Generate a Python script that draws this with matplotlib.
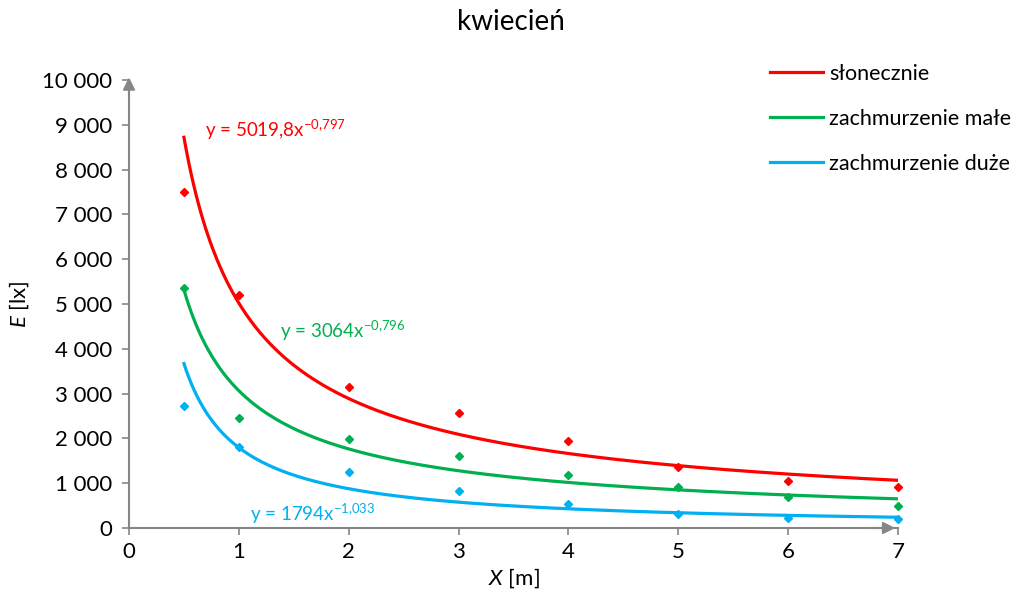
import numpy as np
from matplotlib import pyplot as plt
from matplotlib.ticker import FuncFormatter

plt.rcParams["font.family"] = ["Lato", "DejaVu Sans"]
plt.rcParams["mathtext.fontset"] = "custom"
plt.rcParams["mathtext.rm"] = "Lato"
plt.rcParams["mathtext.it"] = "Lato:italic"

X = [0.5, 1, 2, 3, 4, 5, 6, 7]
SLONECZNIE = [7500, 5200, 3150, 2560, 1940, 1360, 1050, 920]
MALE = [5360, 2450, 1990, 1600, 1180, 910, 690, 490]
DUZE = [2720, 1810, 1250, 830, 540, 310, 220, 200]

# trendline coefficients as printed on the chart (a * x^b)
FITS = [(5019.8, -0.797), (3064, -0.796), (1794, -1.033)]
LABELS = ["słonecznie", "zachmurzenie małe", "zachmurzenie duże"]
EQUATIONS = [r"y = 5019,8x$^{-0{,}797}$", r"y = 3064x$^{-0{,}796}$", r"y = 1794x$^{-1{,}033}$"]
EQ_POS = [(0.69, 8880), (1.37, 4400), (1.10, 320)]
COLORS = ["#FF0000", "#00B050", "#00B0F0"]
AXIS_GRAY = "#868686"

fig = plt.figure(figsize=(10.22, 6.09), dpi=100)
ax = fig.add_axes([129 / 1022, 1 - 528 / 609, (898 - 129) / 1022, (528 - 80) / 609])

xs = np.linspace(0.5, 7, 300)
handles = []
for data, (a, b), label, eq, pos, color in zip([SLONECZNIE, MALE, DUZE], FITS, LABELS, EQUATIONS, EQ_POS, COLORS):
    ax.plot(X, data, "D", color=color, markersize=4.5, clip_on=False, zorder=3)
    line, = ax.plot(xs, a * xs ** b, color=color, lw=2.3, label=label, zorder=2)
    handles.append(line)
    ax.text(pos[0], pos[1], eq, color=color, fontsize=13.5, va="center", ha="left")

ax.set_xlim(0, 7)
ax.set_ylim(0, 10000)
ax.set_xticks(range(0, 8))
ax.set_yticks(range(0, 10001, 1000))
ax.yaxis.set_major_formatter(FuncFormatter(lambda v, p: f"{int(v):,}".replace(",", " ")))

for side in ["top", "right"]:
    ax.spines[side].set_visible(False)
for side in ["left", "bottom"]:
    ax.spines[side].set_color(AXIS_GRAY)
    ax.spines[side].set_linewidth(1.5)
ax.tick_params(axis="both", colors=AXIS_GRAY, labelcolor="black", labelsize=16, length=5, width=1.2, direction="out")
ax.tick_params(axis="x", pad=5)
ax.tick_params(axis="y", pad=7)

# arrow heads on the axes
ax.annotate("", xy=(0, 1.012), xytext=(0, 0.96), xycoords="axes fraction",
            arrowprops=dict(arrowstyle="-|>", color=AXIS_GRAY, lw=1.5, mutation_scale=18))
ax.annotate("", xy=(1.0, 0), xytext=(0.96, 0), xycoords="axes fraction",
            arrowprops=dict(arrowstyle="-|>", color=AXIS_GRAY, lw=1.5, mutation_scale=18))

ax.set_xlabel(r"$\it{X}$ [m]", fontsize=16, labelpad=3)
ax.set_ylabel(r"$\it{E}$ [lx]", fontsize=16, labelpad=8)
fig.suptitle("kwiecień", fontsize=20, y=0.985)

fig.legend(handles=handles, loc="upper left", bbox_to_anchor=(770 / 1022, 1 - 64 / 609),
           frameon=False, fontsize=15.5, borderpad=0, borderaxespad=0,
           handlelength=2.46, handletextpad=0.28, labelspacing=1.16)

plt.savefig("out.png", dpi=100)
